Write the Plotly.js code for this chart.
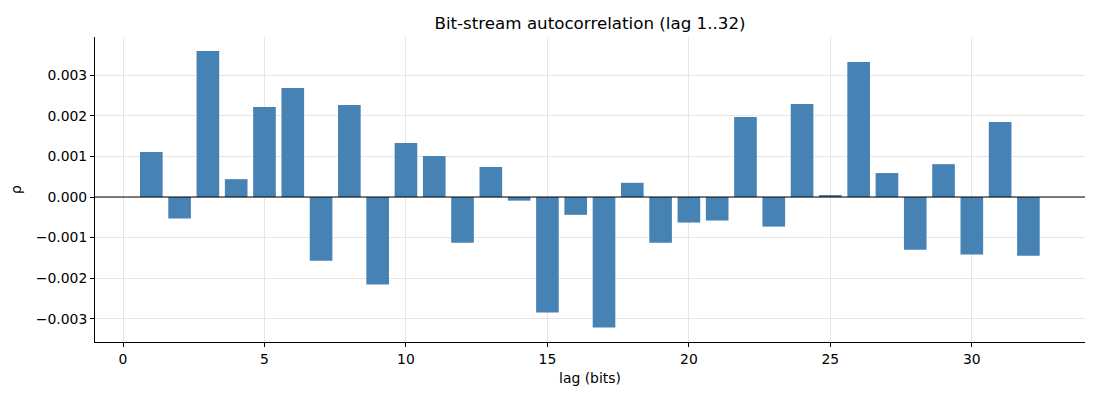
<!DOCTYPE html>
<html><head><meta charset="utf-8">
<script src="https://cdn.plot.ly/plotly-3.0.1.min.js"></script>
<style>body{margin:0;background:#fff}#c{width:1100px;height:400px}</style>
</head><body><div id="c"></div>
<script>
const lags = Array.from({length:32}, (_, i) => i + 1);
const rho = [0.00111, -0.00053, 0.00360, 0.00044, 0.00222, 0.00269, -0.00157, 0.00227,
             -0.00216, 0.00133, 0.00101, -0.00113, 0.00074, -0.00009, -0.00285, -0.00044,
             -0.00322, 0.00035, -0.00113, -0.00063, -0.00058, 0.00197, -0.00073, 0.00229,
             0.00005, 0.00333, 0.00059, -0.00130, 0.00081, -0.00142, 0.00185, -0.00145];
const xTicks = [0, 5, 10, 15, 20, 25, 30];
const yTicks = [-0.003, -0.002, -0.001, 0, 0.001, 0.002, 0.003];
const yTickText = yTicks.map(v => v.toFixed(3).replace('-', '\u2212'));

const font = {family: 'DejaVu Sans, sans-serif', size: 13.9, color: '#000'};
Plotly.newPlot('c', [{
  type: 'bar', x: lags, y: rho, width: 0.8,
  marker: {color: '#4682b4', line: {width: 0}}, hoverinfo: 'skip'
}], {
  width: 1100, height: 400,
  margin: {l: 95, r: 15, t: 37, b: 58},
  paper_bgcolor: '#fff', plot_bgcolor: '#fff',
  font: font,
  showlegend: false,
  title: {text: 'Bit-stream autocorrelation (lag 1..32)', font: {family: 'DejaVu Sans, sans-serif', size: 16.7, color: '#000'}, xref: 'paper', x: 0.5, xanchor: 'center', y: 0.943, yanchor: 'middle'},
  xaxis: {
    range: [-0.99, 34.0], tickvals: xTicks, ticktext: xTicks.map(String),
    ticks: 'outside', ticklen: 4, tickcolor: '#000', tickwidth: 1,
    showline: true, linecolor: '#000', linewidth: 1,
    showgrid: true, gridcolor: '#e6e6e6', gridwidth: 1, zeroline: false,
    title: {text: 'lag (bits)', font: font, standoff: 7}, tickfont: font
  },
  yaxis: {
    range: [-0.003575, 0.003945], tickvals: yTicks, ticktext: yTickText,
    ticks: 'outside', ticklen: 4, tickcolor: '#000', tickwidth: 1,
    showline: true, linecolor: '#000', linewidth: 1,
    showgrid: true, gridcolor: '#e6e6e6', gridwidth: 1, zeroline: false,
    title: {text: 'ρ', font: font, standoff: 10}, tickfont: font
  },
  shapes: [{type: 'line', xref: 'paper', x0: 0, x1: 1, yref: 'y', y0: 0, y1: 0, line: {color: '#000', width: 1}}]
}, {displayModeBar: false, staticPlot: true});
</script></body></html>
